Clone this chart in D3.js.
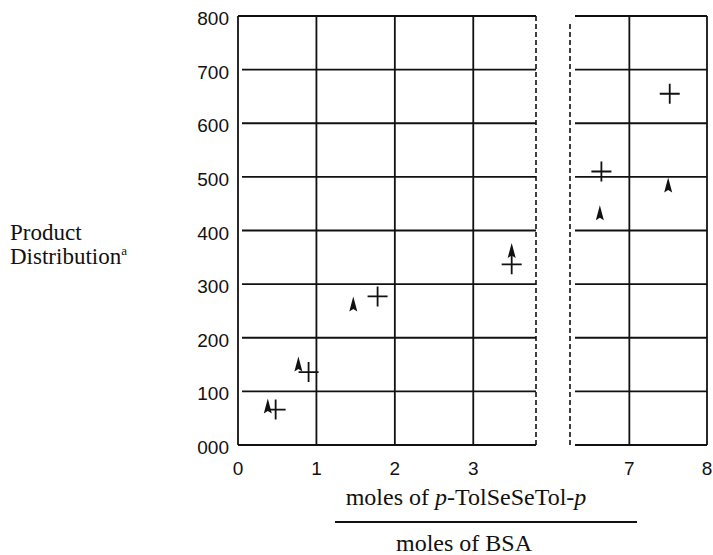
<!DOCTYPE html>
<html>
<head>
<meta charset="utf-8">
<script src="https://cdn.jsdelivr.net/npm/d3@7"></script>
<style>
  body { margin: 0; background: #fff; }
  svg { display: block; }
  .tick-lbl { font-family: "Liberation Sans", Arial, sans-serif; font-size: 19px; fill: #111; }
  .serif { font-family: "Liberation Serif", "Times New Roman", serif; font-size: 23px; fill: #111; }
</style>
</head>
<body>
<div id="svg"></div>
<script>
// data
var yTicks = [0, 100, 200, 300, 400, 500, 600, 700, 800];
var yTickLabels = ["000", "100", "200", "300", "400", "500", "600", "700", "800"];
var xTicksLeft = [0, 1, 2, 3];
var xTicksRight = [7, 8];

// triangles (first product) and crosses (second product)
var triX = [0.38, 0.77, 1.47, 3.49, 6.62, 7.5];
var triY = [72, 150, 262, 362, 432, 484];
var crossX = [0.48, 0.9, 1.78, 3.49, 6.64, 7.52];
var crossY = [66, 136, 277, 337, 510, 655];

var W = 713, H = 555;
var svg = d3.select('#svg').append('svg')
  .attr('width', W).attr('height', H);

var y = d3.scaleLinear().domain([0, 800]).range([445, 16]);
var xL = d3.scaleLinear().domain([0, 3.8]).range([238, 536]);
var xR = d3.scaleLinear().domain([6.3, 8]).range([575, 707]);

function xOf(v) { return v < 5 ? xL(v) : xR(v); }

var grid = svg.append('g').attr('stroke', '#111').attr('fill', 'none');

// left panel horizontal lines (inner ones start a little off the frame)
grid.selectAll('.hl').data(yTicks).enter().append('line')
  .attr('x1', d => (d === 0 || d === 800) ? xL(0) : xL(0) + 4)
  .attr('x2', xL(3.8))
  .attr('y1', d => y(d)).attr('y2', d => y(d))
  .attr('stroke-width', 1.8);
// left panel verticals
grid.selectAll('.vl').data(xTicksLeft).enter().append('line')
  .attr('x1', d => xL(d)).attr('x2', d => xL(d))
  .attr('y1', y(800)).attr('y2', y(0))
  .attr('stroke-width', 1.8);
// dashed right edge of left panel
grid.append('line')
  .attr('x1', xL(3.8)).attr('x2', xL(3.8))
  .attr('y1', y(800)).attr('y2', y(0))
  .attr('stroke-width', 1.6).attr('stroke-dasharray', '5,3');

// right panel horizontal lines
grid.selectAll('.hr').data(yTicks).enter().append('line')
  .attr('x1', xR(6.3)).attr('x2', xR(8))
  .attr('y1', d => y(d)).attr('y2', d => y(d))
  .attr('stroke-width', 1.8);
grid.selectAll('.vr').data(xTicksRight).enter().append('line')
  .attr('x1', d => xR(d)).attr('x2', d => xR(d))
  .attr('y1', y(800)).attr('y2', y(0))
  .attr('stroke-width', 1.8);
// dashed left edge of right panel
grid.append('line')
  .attr('x1', xR(6.3) - 5).attr('x2', xR(6.3) - 5)
  .attr('y1', y(785)).attr('y2', y(0))
  .attr('stroke-width', 1.6).attr('stroke-dasharray', '5,3');

// y tick labels
svg.selectAll('.ylab').data(yTicks).enter().append('text')
  .attr('class', 'tick-lbl')
  .attr('x', 229).attr('y', d => y(d) + 9)
  .attr('text-anchor', 'end')
  .text((d, i) => yTickLabels[i]);

// x tick labels
svg.selectAll('.xlabL').data(xTicksLeft).enter().append('text')
  .attr('class', 'tick-lbl')
  .attr('x', d => xL(d)).attr('y', 475)
  .attr('text-anchor', 'middle').text(d => d);
svg.selectAll('.xlabR').data(xTicksRight).enter().append('text')
  .attr('class', 'tick-lbl')
  .attr('x', d => xR(d)).attr('y', 475)
  .attr('text-anchor', 'middle').text(d => d);

// markers
var tri = d3.range(triX.length).map(i => ({x: triX[i], y: triY[i]}));
var crs = d3.range(crossX.length).map(i => ({x: crossX[i], y: crossY[i]}));

svg.selectAll('.tri').data(tri).enter().append('path')
  .attr('d', 'M0,-8 L4,7 L0,4.5 L-4,7 Z')
  .attr('fill', '#111')
  .attr('transform', d => 'translate(' + xOf(d.x) + ',' + y(d.y) + ')');

svg.selectAll('.crs').data(crs).enter().append('path')
  .attr('d', 'M-10,0 H10 M0,-10 V10')
  .attr('stroke', '#111').attr('stroke-width', 1.8).attr('fill', 'none')
  .attr('transform', d => 'translate(' + xOf(d.x) + ',' + y(d.y) + ')');

// y axis title
svg.append('text').attr('class', 'serif').attr('x', 10).attr('y', 240)
  .text('Product');
var yt2 = svg.append('text').attr('class', 'serif').attr('x', 10).attr('y', 264);
yt2.append('tspan').text('Distribution');
yt2.append('tspan').attr('font-size', 13).attr('dy', -9).text('a');

// x axis title as a fraction
var xt = svg.append('text').attr('class', 'serif').style('font-size', '24px')
  .attr('x', 466).attr('y', 505).attr('text-anchor', 'middle');
xt.append('tspan').text('moles of ');
xt.append('tspan').attr('font-style', 'italic').text('p');
xt.append('tspan').text('-TolSeSeTol-');
xt.append('tspan').attr('font-style', 'italic').text('p');

svg.append('line')
  .attr('x1', 335).attr('x2', 637).attr('y1', 522).attr('y2', 522)
  .attr('stroke', '#111').attr('stroke-width', 1.8);

svg.append('text').attr('class', 'serif').style('font-size', '24px')
  .attr('x', 464).attr('y', 551).attr('text-anchor', 'middle')
  .text('moles of BSA');
</script>
</body>
</html>
